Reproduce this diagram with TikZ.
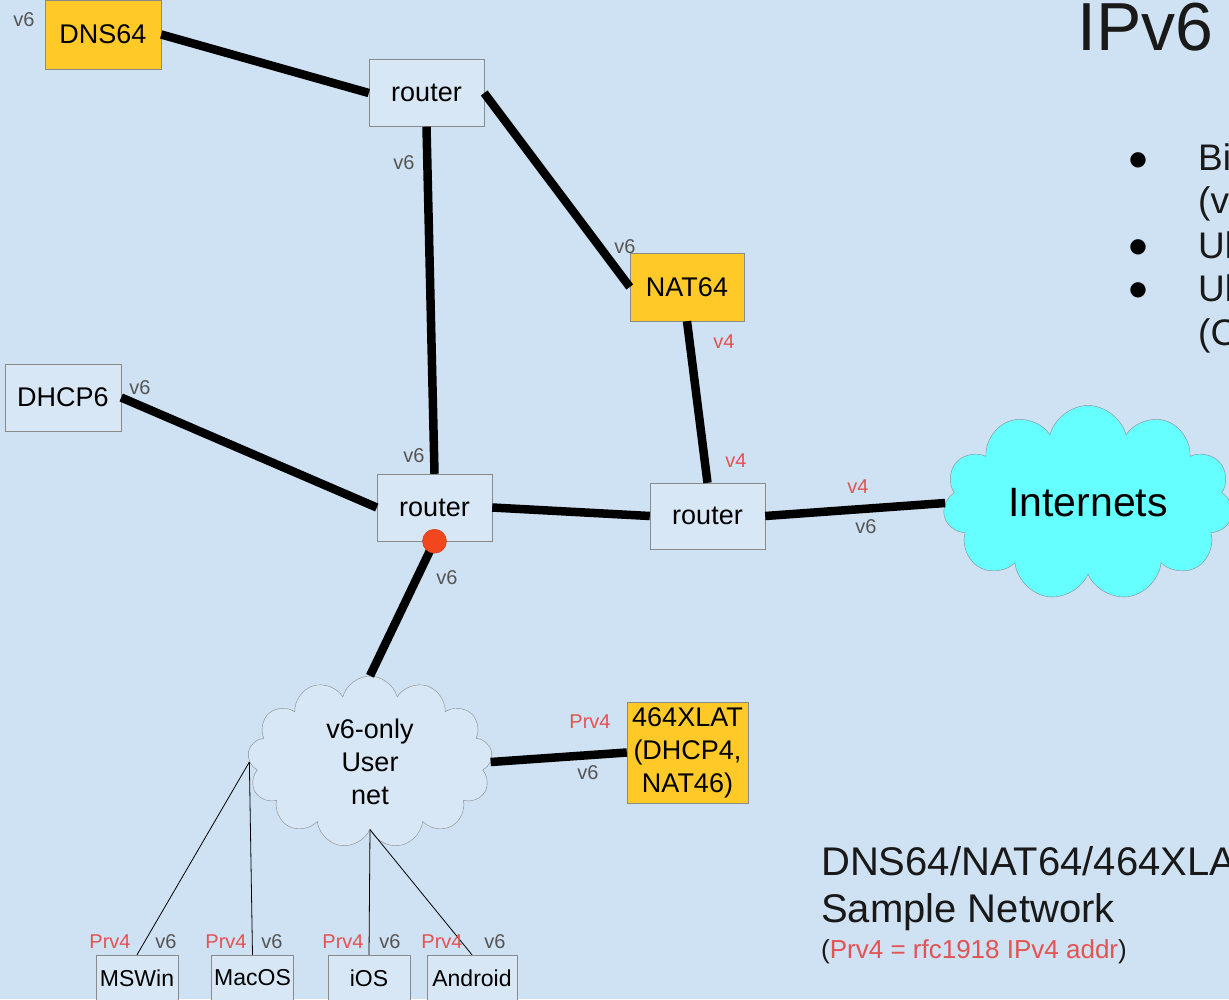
\documentclass[tikz,border=0pt]{standalone}
\usepackage{fontspec}
\setmainfont{Liberation Sans}
\newfontfamily\dotfont{DejaVu Sans}
\usetikzlibrary{positioning, shapes.symbols}
\definecolor{slidebg}{HTML}{CFE2F3}
\definecolor{boxfill}{HTML}{D7E7F5}
\definecolor{boxstroke}{HTML}{8A8A8A}
\definecolor{hostgold}{HTML}{FFCA28}
\definecolor{netcyan}{HTML}{66FFFF}
\definecolor{tagred}{HTML}{E35353}
\definecolor{taggray}{HTML}{555555}
\definecolor{portred}{HTML}{F2461F}

\begin{document}
\begin{tikzpicture}[
    x=1pt, y=-1pt,
    every node/.style={font=\fontsize{27}{33}\selectfont},
    box/.style={draw=boxstroke, fill=boxfill, minimum width=115pt, minimum height=67pt, inner sep=2pt, align=center},
    gold/.style={box, fill=hostgold},
    host/.style={draw=boxstroke, fill=boxfill, minimum width=82pt, minimum height=46pt, inner sep=1pt, font=\fontsize{23}{27}\selectfont},
    net/.style={cloud, cloud ignores aspect, draw=boxstroke, align=center},
    tag6/.style={inner sep=0pt, text=taggray, font=\fontsize{20}{22}\selectfont},
    tag4/.style={tag6, text=tagred},
    slide/.style={anchor=base west, inner sep=0pt, text=black!90},
    link/.style={line width=8.5pt},
    drop/.style={line width=0.8pt}
]

\useasboundingbox (0,0) rectangle (1229,999);
\fill[slidebg] (0,0) rectangle (1229,999);
\clip (0,0) rectangle (1229,999);

% Hosts and routers
\node[gold, minimum width=116pt, minimum height=69pt] (dns) at (103,34.5) {DNS64};
\node[box] (r1) at (426.5,93) {router};
\node[gold, minimum width=114pt, minimum height=68pt] (nat) at (687,287) {NAT64};
\node[box, minimum width=116pt] (dhcp) at (63,397.5) {DHCP6};
\node[box] (r2) at (434.5,507.5) {router};
\node[box, minimum height=66pt] (r3) at (707.5,516) {router};
\node[gold, minimum width=121pt, minimum height=101pt] (xlat) at (687.5,752.5) {464XLAT\\(DHCP4,\\NAT46)};

% Clouds
\node[net, cloud puffs=11, fill=netcyan, minimum width=290pt, minimum height=195pt,
      font=\fontsize{41}{45}\selectfont] (inet) at (1088,503) {Internets};
\node[net, cloud puffs=13, fill=boxfill, minimum width=245pt, minimum height=172pt] (unet) at (370,762) {v6-only\\User\\net};

% End devices
\node[host] (win) at (137,978) {MSWin};
\node[host] (mac) at (252.5,978) {MacOS};
\node[host] (ios) at (369,978) {iOS};
\node[host, minimum width=90pt] (droid) at (472,978) {Android};

% Backbone links
\draw[link] (dns.east) -- (r1.west);
\draw[link] (r1.south) -- (r2.north);
\draw[link] (r1.east) -- (nat.west);
\draw[link] (nat.south) -- (r3.north);
\draw[link] (dhcp.east) -- (r2.west);
\draw[link] (r2.east) -- (r3.west);
\draw[link] (r3.east) -- (inet.west);
\draw[link] (r2.south) -- (unet.north);
\draw[link] (unet.east) -- (xlat.west);

% Port on the user side
\node[circle, fill=portred, draw=portred!80!black, line width=0.4pt, minimum size=24pt, inner sep=0pt] (port) at (r2.south) {};

% Device drops
\draw[drop] (unet.west) -- (win.north);
\draw[drop] (unet.west) -- (mac.north);
\draw[drop] (unet.south) -- (ios.north);
\draw[drop] (unet.south) -- (droid.north);

% Address family tags
\node[tag6] (t-dns) at (24,20) {v6};
\node[tag6] (t-r1) at (404,163) {v6};
\node[tag6] (t-r2) at (414,456) {v6};
\node[tag6] (t-nat) at (625,247) {v6};
\node[tag4] (t-nat4) at (724,342) {v4};
\node[tag4] (t-r34) at (736,461) {v4};
\node[tag6] (t-dhcp) at (140,388) {v6};
\node[tag6] (t-port) at (447,578) {v6};
\node[tag4] (t-inet4) at (858,487) {v4};
\node[tag6] (t-inet6) at (866,527) {v6};
\node[tag4] (t-xlat4) at (590,722) {Prv4};
\node[tag6] (t-xlat6) at (588,773) {v6};
\node[tag4] (t-win4) at (110,942) {Prv4};
\node[tag6] (t-win6) at (166,942) {v6};
\node[tag4] (t-mac4) at (226,942) {Prv4};
\node[tag6] (t-mac6) at (272,942) {v6};
\node[tag4] (t-ios4) at (343,942) {Prv4};
\node[tag6] (t-ios6) at (390,942) {v6};
\node[tag4] (t-and4) at (442,942) {Prv4};
\node[tag6] (t-and6) at (495,942) {v6};

% Slide text, cut at the right edge
\node[slide, font=\fontsize{68}{70}\selectfont] (title) at (1077,50) {IPv6};
\node[font=\dotfont\fontsize{20}{20}\selectfont, inner sep=0pt] (dot1) at (1138,160) {●};
\node[font=\dotfont\fontsize{20}{20}\selectfont, inner sep=0pt] (dot2) at (1138,247) {●};
\node[font=\dotfont\fontsize{20}{20}\selectfont, inner sep=0pt] (dot3) at (1138,290) {●};
\node[slide, font=\fontsize{37}{44}\selectfont] (pt1) at (1198,170) {Bi};
\node[slide, font=\fontsize{37}{44}\selectfont] (pt1b) at (1198,213) {(v};
\node[slide, font=\fontsize{37}{44}\selectfont] (pt2) at (1198,258) {Ul};
\node[slide, font=\fontsize{37}{44}\selectfont] (pt3) at (1198,301) {Ul};
\node[slide, font=\fontsize{37}{44}\selectfont] (pt3b) at (1198,345) {(C};

\node[slide, font=\fontsize{40}{48}\selectfont] (cap1) at (821,875) {DNS64/NAT64/464XLA};
\node[slide, font=\fontsize{40}{48}\selectfont] (cap2) at (821,922) {Sample Network};
\node[slide, font=\fontsize{26}{30}\selectfont] (cap3) at (821,958) {(\textcolor{tagred}{Prv4 = rfc1918 IPv4 addr})};

\end{tikzpicture}
\end{document}
